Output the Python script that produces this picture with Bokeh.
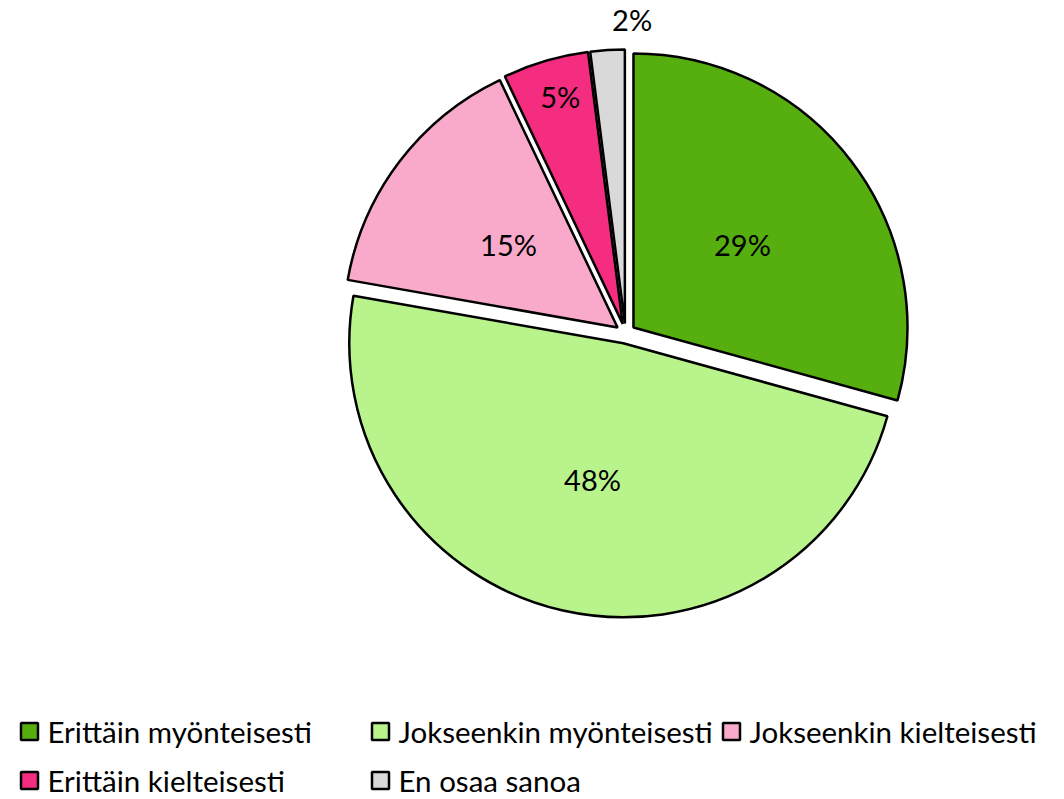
import math
from bokeh.plotting import figure
from bokeh.models import Range1d, ColumnDataSource
from bokeh.core.properties import value
from bokeh.embed import file_html
from bokeh.resources import INLINE

# ---- data ----
categories = ["Erittäin myönteisesti", "Jokseenkin myönteisesti", "Jokseenkin kielteisesti",
              "Erittäin kielteisesti", "En osaa sanoa"]
shares = [29, 48, 15, 5, 2]
labels = ["29%", "48%", "15%", "5%", "2%"]
colors = ["#56AE0F", "#B8F38C", "#F9AACB", "#F42D80", "#D9D9D9"]

# ---- layout (label placement as Excel's best fit) ----
label_radius = [0.50, 0.51, 0.50, 0.86, 1.11]
label_turn_deg = [0, 0, 0, -1, -5]

W, H = 1064, 799
FONT = "Lato"
CX, CY, R, EXPLODE = 625, 466, 274, 10

p = figure(width=W, height=H, x_range=Range1d(0, W), y_range=Range1d(0, H),
           output_backend="svg", toolbar_location=None, min_border=0)
p.axis.visible = False
p.grid.visible = False
p.outline_line_color = None
p.background_fill_color = "white"

total = sum(shares)
starts, ends, xs, ys, lx, ly = [], [], [], [], [], []
cum = 0.0
for i, s in enumerate(shares):
    a0 = math.pi / 2 - 2 * math.pi * cum / total
    cum += s
    a1 = math.pi / 2 - 2 * math.pi * cum / total
    mid = (a0 + a1) / 2
    cx = CX + EXPLODE * math.cos(mid)
    cy = CY + EXPLODE * math.sin(mid)
    starts.append(a0); ends.append(a1); xs.append(cx); ys.append(cy)
    la = mid + math.radians(label_turn_deg[i])
    lx.append(cx + label_radius[i] * R * math.cos(la))
    ly.append(cy + label_radius[i] * R * math.sin(la))

src = ColumnDataSource(dict(x=xs, y=ys, start=starts, end=ends, color=colors,
                            lx=lx, ly=ly, label=labels, cat=categories))
p.wedge(x="x", y="y", radius=R, start_angle="start", end_angle="end", direction="clock",
        fill_color="color", line_color="black", line_width=2.5, source=src)
p.text(x="lx", y="ly", text="label", text_align="center", text_baseline="middle",
       text_font=value(FONT), text_font_size="29px", text_color="black", source=src)

# ---- legend ----
n = len(categories)
mx = [29 + (i % 3) * 351 for i in range(n)]
my = [H - 731 - (i // 3) * 49 for i in range(n)]
tx = [m + 18 for m in mx]
lsrc = ColumnDataSource(dict(x=mx, y=my, tx=tx, color=colors, cat=categories))
p.scatter(x="x", y="y", marker="square", size=17, fill_color="color", line_color="black",
          line_width=2.5, source=lsrc)
p.text(x="tx", y="y", text="cat", text_align="left", text_baseline="middle",
       text_font=value(FONT), text_font_size="29.5px", text_color="black", source=lsrc)

open("out.html", "w").write(file_html(p, INLINE))
